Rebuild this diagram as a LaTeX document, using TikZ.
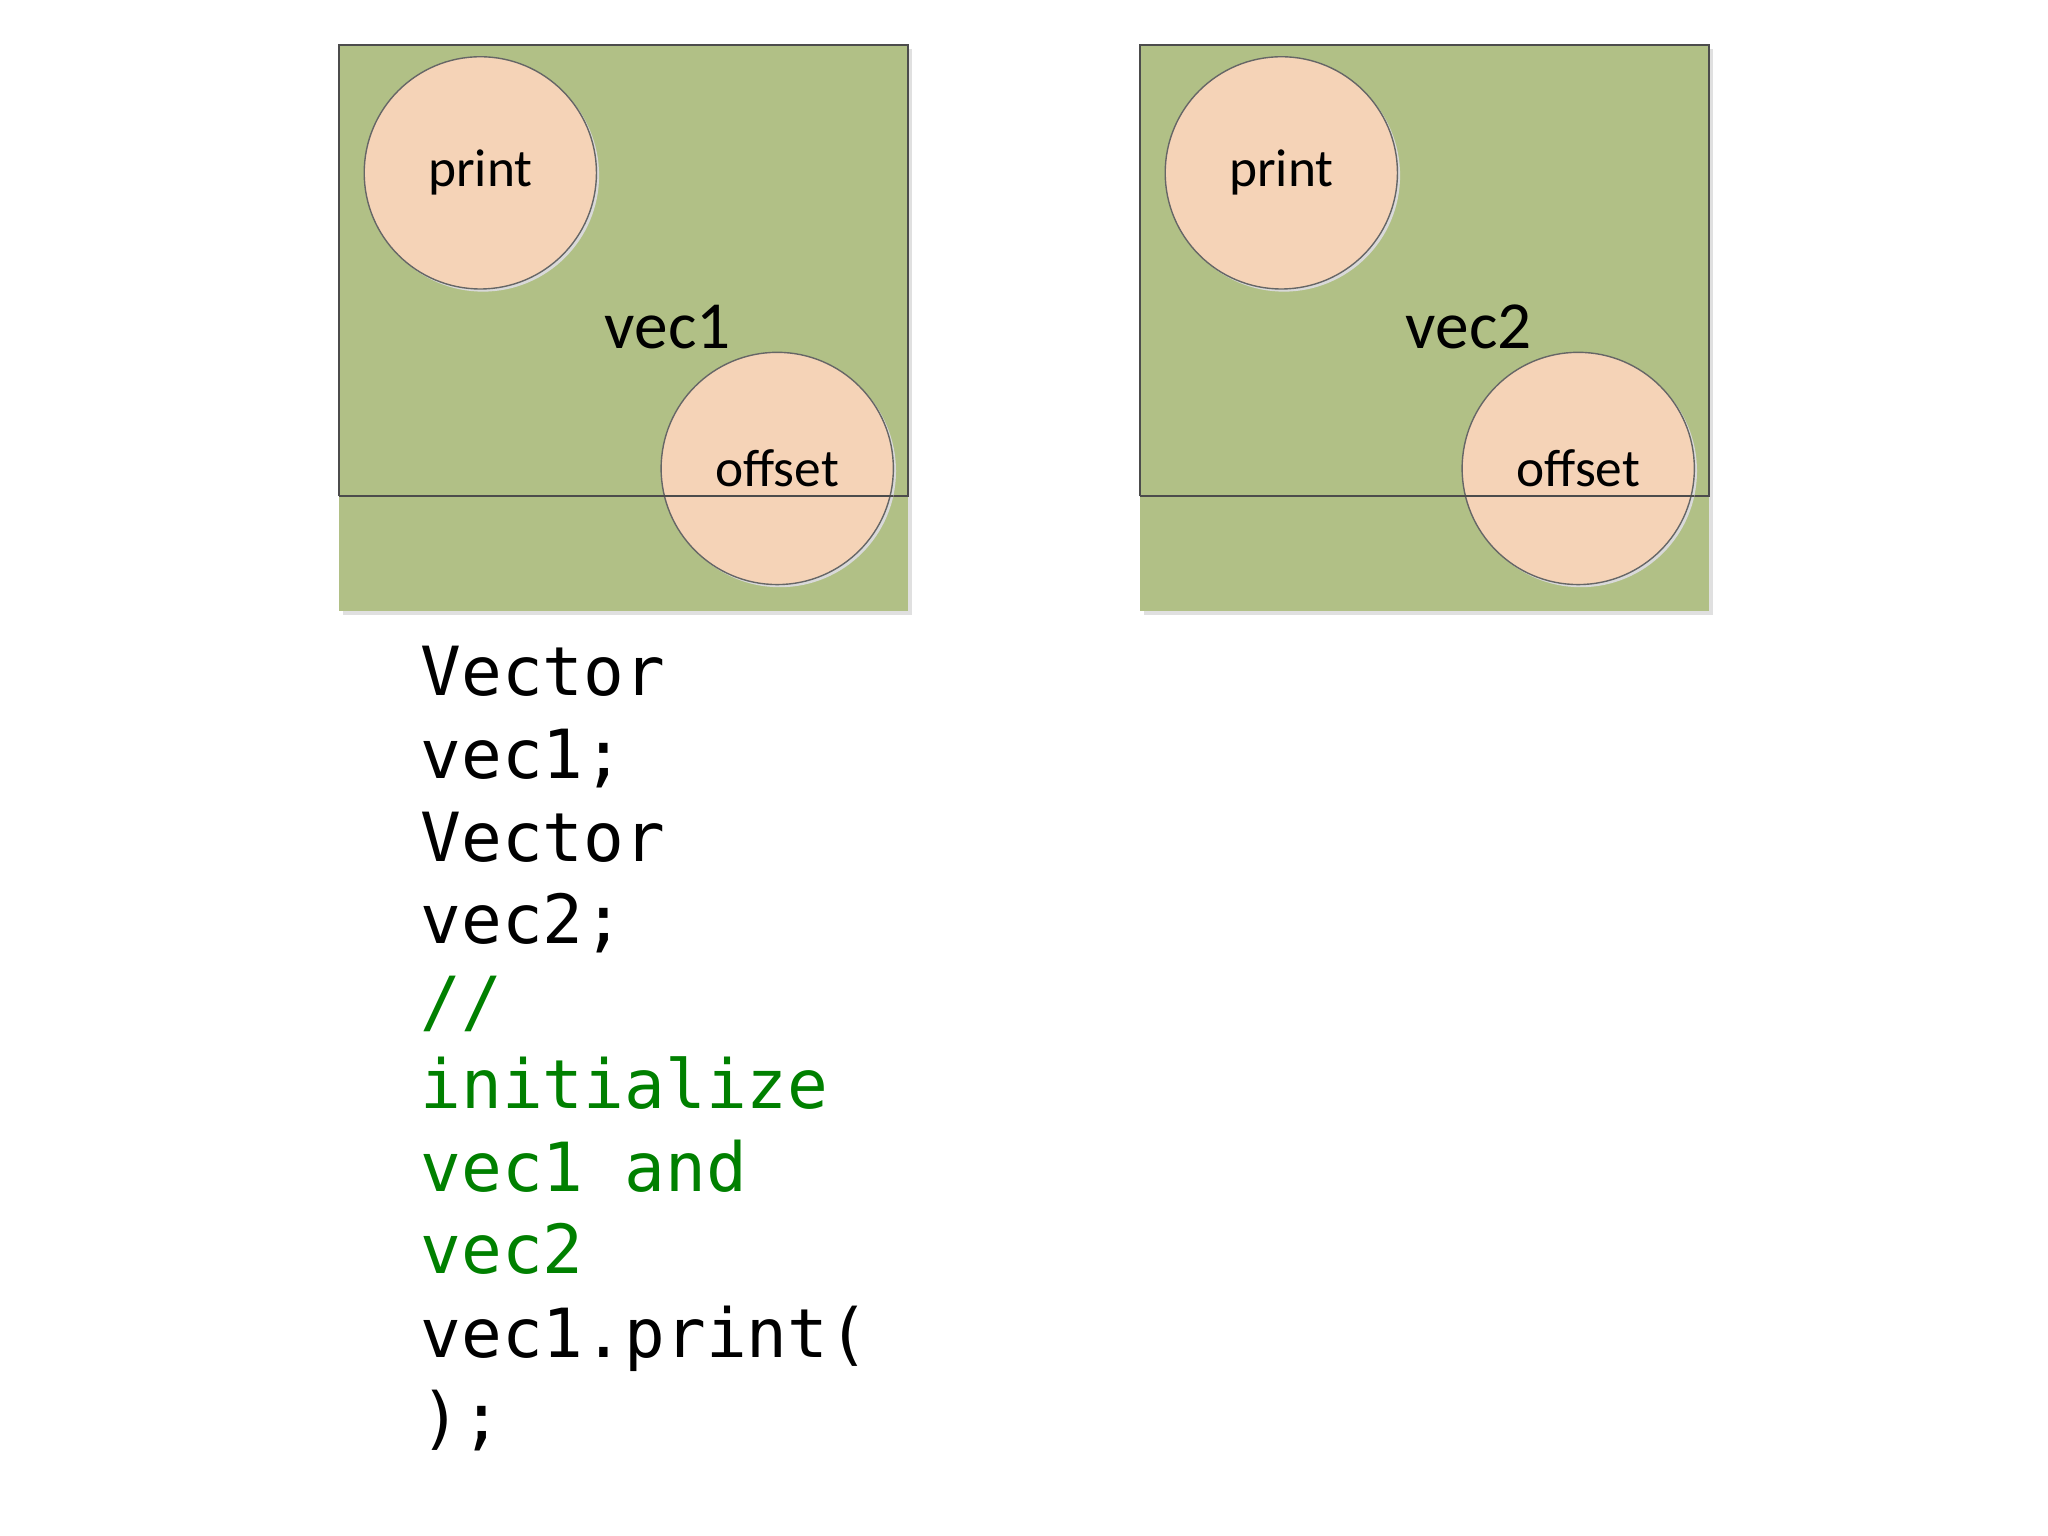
\documentclass[tikz,border=0pt]{standalone}
\usepackage{fontspec}
\setmainfont{Carlito}
\newfontfamily\codefont{DejaVu Sans Mono}
\begin{document}
\begin{tikzpicture}[x=0.01cm,y=-0.01cm,
  box/.style={fill=boxgreen,draw=none},
  circ/.style={circle,fill=circpeach,draw=black!60,line width=0.3pt,minimum size=176\pgflinewidth,inner sep=0pt},
  lbl/.style={font=\fontsize{11.5pt}{13pt}\selectfont},
  big/.style={font=\fontsize{14.5pt}{16pt}\selectfont},
  code/.style={anchor=base west,inner sep=0pt,font=\codefont\fontsize{14.6pt}{17pt}\selectfont}]
\definecolor{boxgreen}{RGB}{177,192,134}
\definecolor{circpeach}{RGB}{245,211,183}
\definecolor{cgreen}{RGB}{0,128,0}
\useasboundingbox (0,0) rectangle (1552,1164);
\foreach \ox/\nm/\lab in {0/a/vec1,607/b/vec2}{
  \begin{scope}[xshift=\ox*0.01cm]
  \fill[black!12] (260,37) rectangle (691,466);
  \fill[boxgreen] (257,34) rectangle (688,463);
  \draw[black!70,line width=0.3pt] (257,376) -- (257,34) -- (688,34) -- (688,376) -- (257,376);
  \fill[black!15] (366,133) circle (88);
  \fill[black!15] (591,357) circle (88);
  \draw[fill=circpeach,draw=black!60,line width=0.3pt] (364,131) circle (88);
  \draw[fill=circpeach,draw=black!60,line width=0.3pt] (589,355) circle (88);
  \draw[black!70,line width=0.3pt] (501,376) -- (677,376);
  \node[lbl] (\nm p) at (364,131) {print};
  \node[lbl] (\nm o) at (589,355) {offset};
  \node[big] (\nm v) at (506,248) {\lab};
  \end{scope}
}
\node[code] (c1) at (318,527) {Vector};
\node[code] (c2) at (318,590) {vec1;};
\node[code] (c3) at (318,653) {Vector};
\node[code] (c4) at (318,715) {vec2;};
\node[code,text=cgreen] (c5) at (318,777) {//};
\node[code,text=cgreen] (c6) at (318,840) {initialize};
\node[code,text=cgreen] (c7) at (318,903) {vec1 and};
\node[code,text=cgreen] (c8) at (318,965) {vec2};
\node[code] (c9) at (318,1029) {vec1.print(};
\node[code] (c10) at (318,1092) {);};
\end{tikzpicture}
\end{document}
